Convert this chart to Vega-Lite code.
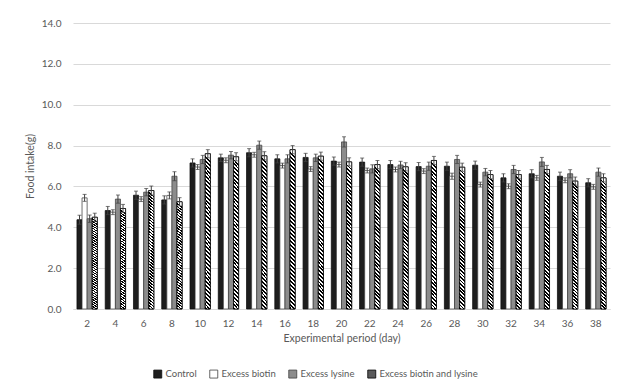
{
  "$schema": "https://vega.github.io/schema/vega-lite/v6.json",
  "width": 537,
  "height": 286,
  "autosize": "none",
  "padding": {"left": 73, "top": 23, "right": 11, "bottom": 79},
  "background": "white",
  "config": {
    "font": "Lato",
    "view": {"stroke": null},
    "axis": {"labelColor": "#595959", "titleColor": "#595959", "labelFontSize": 10, "titleFontSize": 10.5, "titleFontWeight": "normal"}
  },
  "data": {"values": [
    {"day":2,"group":"Control","value":4.37,"lo":4.15,"hi":4.59},
    {"day":2,"group":"Excess biotin","value":5.44,"lo":5.27,"hi":5.61},
    {"day":2,"group":"Excess lysine","value":4.42,"lo":4.24,"hi":4.60},
    {"day":2,"group":"Excess biotin and lysine","value":4.49,"lo":4.29,"hi":4.69},
    {"day":4,"group":"Control","value":4.82,"lo":4.62,"hi":5.02},
    {"day":4,"group":"Excess biotin","value":4.74,"lo":4.62,"hi":4.86},
    {"day":4,"group":"Excess lysine","value":5.38,"lo":5.18,"hi":5.58},
    {"day":4,"group":"Excess biotin and lysine","value":4.92,"lo":4.72,"hi":5.12},
    {"day":6,"group":"Control","value":5.57,"lo":5.37,"hi":5.77},
    {"day":6,"group":"Excess biotin","value":5.38,"lo":5.26,"hi":5.50},
    {"day":6,"group":"Excess lysine","value":5.72,"lo":5.54,"hi":5.90},
    {"day":6,"group":"Excess biotin and lysine","value":5.80,"lo":5.58,"hi":6.02},
    {"day":8,"group":"Control","value":5.34,"lo":5.14,"hi":5.54},
    {"day":8,"group":"Excess biotin","value":5.56,"lo":5.39,"hi":5.73},
    {"day":8,"group":"Excess lysine","value":6.50,"lo":6.28,"hi":6.72},
    {"day":8,"group":"Excess biotin and lysine","value":5.25,"lo":5.05,"hi":5.45},
    {"day":10,"group":"Control","value":7.15,"lo":6.95,"hi":7.35},
    {"day":10,"group":"Excess biotin","value":6.95,"lo":6.83,"hi":7.07},
    {"day":10,"group":"Excess lysine","value":7.32,"lo":7.12,"hi":7.52},
    {"day":10,"group":"Excess biotin and lysine","value":7.60,"lo":7.40,"hi":7.80},
    {"day":12,"group":"Control","value":7.40,"lo":7.22,"hi":7.58},
    {"day":12,"group":"Excess biotin","value":7.28,"lo":7.16,"hi":7.40},
    {"day":12,"group":"Excess lysine","value":7.53,"lo":7.35,"hi":7.71},
    {"day":12,"group":"Excess biotin and lysine","value":7.45,"lo":7.25,"hi":7.65},
    {"day":14,"group":"Control","value":7.65,"lo":7.45,"hi":7.85},
    {"day":14,"group":"Excess biotin","value":7.55,"lo":7.43,"hi":7.67},
    {"day":14,"group":"Excess lysine","value":8.02,"lo":7.82,"hi":8.22},
    {"day":14,"group":"Excess biotin and lysine","value":7.50,"lo":7.30,"hi":7.70},
    {"day":16,"group":"Control","value":7.35,"lo":7.15,"hi":7.55},
    {"day":16,"group":"Excess biotin","value":7.02,"lo":6.90,"hi":7.14},
    {"day":16,"group":"Excess lysine","value":7.35,"lo":7.15,"hi":7.55},
    {"day":16,"group":"Excess biotin and lysine","value":7.80,"lo":7.60,"hi":8.00},
    {"day":18,"group":"Control","value":7.42,"lo":7.22,"hi":7.62},
    {"day":18,"group":"Excess biotin","value":6.85,"lo":6.73,"hi":6.97},
    {"day":18,"group":"Excess lysine","value":7.40,"lo":7.22,"hi":7.58},
    {"day":18,"group":"Excess biotin and lysine","value":7.48,"lo":7.28,"hi":7.68},
    {"day":20,"group":"Control","value":7.24,"lo":7.04,"hi":7.44},
    {"day":20,"group":"Excess biotin","value":7.07,"lo":6.95,"hi":7.19},
    {"day":20,"group":"Excess lysine","value":8.18,"lo":7.93,"hi":8.43},
    {"day":20,"group":"Excess biotin and lysine","value":7.20,"lo":7.00,"hi":7.40},
    {"day":22,"group":"Control","value":7.19,"lo":6.99,"hi":7.39},
    {"day":22,"group":"Excess biotin","value":6.78,"lo":6.66,"hi":6.90},
    {"day":22,"group":"Excess lysine","value":6.86,"lo":6.66,"hi":7.06},
    {"day":22,"group":"Excess biotin and lysine","value":7.07,"lo":6.87,"hi":7.27},
    {"day":24,"group":"Control","value":7.07,"lo":6.87,"hi":7.27},
    {"day":24,"group":"Excess biotin","value":6.83,"lo":6.71,"hi":6.95},
    {"day":24,"group":"Excess lysine","value":7.05,"lo":6.87,"hi":7.23},
    {"day":24,"group":"Excess biotin and lysine","value":6.96,"lo":6.76,"hi":7.16},
    {"day":26,"group":"Control","value":6.97,"lo":6.77,"hi":7.17},
    {"day":26,"group":"Excess biotin","value":6.75,"lo":6.63,"hi":6.87},
    {"day":26,"group":"Excess lysine","value":6.99,"lo":6.79,"hi":7.19},
    {"day":26,"group":"Excess biotin and lysine","value":7.27,"lo":7.07,"hi":7.47},
    {"day":28,"group":"Control","value":6.99,"lo":6.79,"hi":7.19},
    {"day":28,"group":"Excess biotin","value":6.50,"lo":6.35,"hi":6.65},
    {"day":28,"group":"Excess lysine","value":7.32,"lo":7.12,"hi":7.52},
    {"day":28,"group":"Excess biotin and lysine","value":6.94,"lo":6.74,"hi":7.14},
    {"day":30,"group":"Control","value":7.04,"lo":6.84,"hi":7.24},
    {"day":30,"group":"Excess biotin","value":6.09,"lo":5.97,"hi":6.21},
    {"day":30,"group":"Excess lysine","value":6.70,"lo":6.52,"hi":6.88},
    {"day":30,"group":"Excess biotin and lysine","value":6.58,"lo":6.38,"hi":6.78},
    {"day":32,"group":"Control","value":6.42,"lo":6.22,"hi":6.62},
    {"day":32,"group":"Excess biotin","value":6.01,"lo":5.89,"hi":6.13},
    {"day":32,"group":"Excess lysine","value":6.83,"lo":6.63,"hi":7.03},
    {"day":32,"group":"Excess biotin and lysine","value":6.58,"lo":6.38,"hi":6.78},
    {"day":34,"group":"Control","value":6.62,"lo":6.42,"hi":6.82},
    {"day":34,"group":"Excess biotin","value":6.42,"lo":6.30,"hi":6.54},
    {"day":34,"group":"Excess lysine","value":7.20,"lo":6.98,"hi":7.42},
    {"day":34,"group":"Excess biotin and lysine","value":6.83,"lo":6.63,"hi":7.03},
    {"day":36,"group":"Control","value":6.50,"lo":6.30,"hi":6.70},
    {"day":36,"group":"Excess biotin","value":6.30,"lo":6.18,"hi":6.42},
    {"day":36,"group":"Excess lysine","value":6.62,"lo":6.42,"hi":6.82},
    {"day":36,"group":"Excess biotin and lysine","value":6.26,"lo":6.06,"hi":6.46},
    {"day":38,"group":"Control","value":6.18,"lo":5.98,"hi":6.38},
    {"day":38,"group":"Excess biotin","value":5.98,"lo":5.86,"hi":6.10},
    {"day":38,"group":"Excess lysine","value":6.70,"lo":6.50,"hi":6.90},
    {"day":38,"group":"Excess biotin and lysine","value":6.42,"lo":6.22,"hi":6.62}
  ]},
  "encoding": {
    "x": {
      "field": "day", "type": "ordinal",
      "scale": {"paddingInner": 0.28, "paddingOuter": 0.14},
      "axis": {"title": "Experimental period (day)", "labelAngle": 0, "ticks": false, "tickSize": 0, "domainColor": "#d9d9d9", "labelPadding": 9, "titlePadding": 5, "grid": false}
    },
    "xOffset": {
      "field": "group", "type": "nominal",
      "scale": {"domain": ["Control", "Excess biotin", "Excess lysine", "Excess biotin and lysine"], "paddingInner": 0, "paddingOuter": 0}
    }
  },
  "layer": [
    {
      "mark": {"type": "bar", "strokeWidth": 0.75},
      "encoding": {
        "y": {
          "field": "value", "type": "quantitative",
          "scale": {"domain": [0, 14], "nice": false},
          "axis": {"title": "Food intake(g)", "values": [0, 2, 4, 6, 8, 10, 12, 14], "format": ".1f", "domain": false, "ticks": false, "tickSize": 0, "labelPadding": 12, "titlePadding": 6, "grid": true, "gridColor": "#d9d9d9"}
        },
        "fill": {
          "field": "group", "type": "nominal",
          "scale": {
            "domain": ["Control", "Excess biotin", "Excess lysine", "Excess biotin and lysine"],
            "range": ["#1e1e1e", "#ffffff", "#8c8c8c", "#5a5a5a"]
          },
          "legend": {"orient": "none", "legendX": 80, "legendY": 346, "direction": "horizontal", "title": null, "symbolType": "square", "symbolSize": 64, "symbolStrokeWidth": 0.8, "labelFontSize": 9.5, "labelColor": "#595959", "columnPadding": 11, "labelOffset": 3}
        },
        "stroke": {
          "field": "group", "type": "nominal",
          "scale": {"domain": ["Control", "Excess biotin", "Excess lysine", "Excess biotin and lysine"], "range": ["#0d0d0d", "#404040", "#404040", "#000000"]},
          "legend": {"orient": "none", "legendX": 80, "legendY": 346, "direction": "horizontal", "title": null, "symbolType": "square", "symbolSize": 64, "symbolStrokeWidth": 0.8, "labelFontSize": 9.5, "labelColor": "#595959", "columnPadding": 11, "labelOffset": 3}
        }
      }
    },
    {
      "transform": [{"filter": "datum.group === 'Excess biotin and lysine'"}],
      "mark": {"type": "bar", "strokeWidth": 0.75, "stroke": "#000000", "fill": {"gradient": "linear", "x1": 0, "y1": 1, "x2": 0.0357, "y2": 0, "stops": [
              {"offset":0,"color":"#000"},{"offset":0.0125,"color":"#000"},{"offset":0.0125,"color":"#fff"},{"offset":0.025,"color":"#fff"},
              {"offset":0.025,"color":"#000"},{"offset":0.0375,"color":"#000"},{"offset":0.0375,"color":"#fff"},{"offset":0.05,"color":"#fff"},
              {"offset":0.05,"color":"#000"},{"offset":0.0625,"color":"#000"},{"offset":0.0625,"color":"#fff"},{"offset":0.075,"color":"#fff"},
              {"offset":0.075,"color":"#000"},{"offset":0.0875,"color":"#000"},{"offset":0.0875,"color":"#fff"},{"offset":0.1,"color":"#fff"},
              {"offset":0.1,"color":"#000"},{"offset":0.1125,"color":"#000"},{"offset":0.1125,"color":"#fff"},{"offset":0.125,"color":"#fff"},
              {"offset":0.125,"color":"#000"},{"offset":0.1375,"color":"#000"},{"offset":0.1375,"color":"#fff"},{"offset":0.15,"color":"#fff"},
              {"offset":0.15,"color":"#000"},{"offset":0.1625,"color":"#000"},{"offset":0.1625,"color":"#fff"},{"offset":0.175,"color":"#fff"},
              {"offset":0.175,"color":"#000"},{"offset":0.1875,"color":"#000"},{"offset":0.1875,"color":"#fff"},{"offset":0.2,"color":"#fff"},
              {"offset":0.2,"color":"#000"},{"offset":0.2125,"color":"#000"},{"offset":0.2125,"color":"#fff"},{"offset":0.225,"color":"#fff"},
              {"offset":0.225,"color":"#000"},{"offset":0.2375,"color":"#000"},{"offset":0.2375,"color":"#fff"},{"offset":0.25,"color":"#fff"},
              {"offset":0.25,"color":"#000"},{"offset":0.2625,"color":"#000"},{"offset":0.2625,"color":"#fff"},{"offset":0.275,"color":"#fff"},
              {"offset":0.275,"color":"#000"},{"offset":0.2875,"color":"#000"},{"offset":0.2875,"color":"#fff"},{"offset":0.3,"color":"#fff"},
              {"offset":0.3,"color":"#000"},{"offset":0.3125,"color":"#000"},{"offset":0.3125,"color":"#fff"},{"offset":0.325,"color":"#fff"},
              {"offset":0.325,"color":"#000"},{"offset":0.3375,"color":"#000"},{"offset":0.3375,"color":"#fff"},{"offset":0.35,"color":"#fff"},
              {"offset":0.35,"color":"#000"},{"offset":0.3625,"color":"#000"},{"offset":0.3625,"color":"#fff"},{"offset":0.375,"color":"#fff"},
              {"offset":0.375,"color":"#000"},{"offset":0.3875,"color":"#000"},{"offset":0.3875,"color":"#fff"},{"offset":0.4,"color":"#fff"},
              {"offset":0.4,"color":"#000"},{"offset":0.4125,"color":"#000"},{"offset":0.4125,"color":"#fff"},{"offset":0.425,"color":"#fff"},
              {"offset":0.425,"color":"#000"},{"offset":0.4375,"color":"#000"},{"offset":0.4375,"color":"#fff"},{"offset":0.45,"color":"#fff"},
              {"offset":0.45,"color":"#000"},{"offset":0.4625,"color":"#000"},{"offset":0.4625,"color":"#fff"},{"offset":0.475,"color":"#fff"},
              {"offset":0.475,"color":"#000"},{"offset":0.4875,"color":"#000"},{"offset":0.4875,"color":"#fff"},{"offset":0.5,"color":"#fff"},
              {"offset":0.5,"color":"#000"},{"offset":0.5125,"color":"#000"},{"offset":0.5125,"color":"#fff"},{"offset":0.525,"color":"#fff"},
              {"offset":0.525,"color":"#000"},{"offset":0.5375,"color":"#000"},{"offset":0.5375,"color":"#fff"},{"offset":0.55,"color":"#fff"},
              {"offset":0.55,"color":"#000"},{"offset":0.5625,"color":"#000"},{"offset":0.5625,"color":"#fff"},{"offset":0.575,"color":"#fff"},
              {"offset":0.575,"color":"#000"},{"offset":0.5875,"color":"#000"},{"offset":0.5875,"color":"#fff"},{"offset":0.6,"color":"#fff"},
              {"offset":0.6,"color":"#000"},{"offset":0.6125,"color":"#000"},{"offset":0.6125,"color":"#fff"},{"offset":0.625,"color":"#fff"},
              {"offset":0.625,"color":"#000"},{"offset":0.6375,"color":"#000"},{"offset":0.6375,"color":"#fff"},{"offset":0.65,"color":"#fff"},
              {"offset":0.65,"color":"#000"},{"offset":0.6625,"color":"#000"},{"offset":0.6625,"color":"#fff"},{"offset":0.675,"color":"#fff"},
              {"offset":0.675,"color":"#000"},{"offset":0.6875,"color":"#000"},{"offset":0.6875,"color":"#fff"},{"offset":0.7,"color":"#fff"},
              {"offset":0.7,"color":"#000"},{"offset":0.7125,"color":"#000"},{"offset":0.7125,"color":"#fff"},{"offset":0.725,"color":"#fff"},
              {"offset":0.725,"color":"#000"},{"offset":0.7375,"color":"#000"},{"offset":0.7375,"color":"#fff"},{"offset":0.75,"color":"#fff"},
              {"offset":0.75,"color":"#000"},{"offset":0.7625,"color":"#000"},{"offset":0.7625,"color":"#fff"},{"offset":0.775,"color":"#fff"},
              {"offset":0.775,"color":"#000"},{"offset":0.7875,"color":"#000"},{"offset":0.7875,"color":"#fff"},{"offset":0.8,"color":"#fff"},
              {"offset":0.8,"color":"#000"},{"offset":0.8125,"color":"#000"},{"offset":0.8125,"color":"#fff"},{"offset":0.825,"color":"#fff"},
              {"offset":0.825,"color":"#000"},{"offset":0.8375,"color":"#000"},{"offset":0.8375,"color":"#fff"},{"offset":0.85,"color":"#fff"},
              {"offset":0.85,"color":"#000"},{"offset":0.8625,"color":"#000"},{"offset":0.8625,"color":"#fff"},{"offset":0.875,"color":"#fff"},
              {"offset":0.875,"color":"#000"},{"offset":0.8875,"color":"#000"},{"offset":0.8875,"color":"#fff"},{"offset":0.9,"color":"#fff"},
              {"offset":0.9,"color":"#000"},{"offset":0.9125,"color":"#000"},{"offset":0.9125,"color":"#fff"},{"offset":0.925,"color":"#fff"},
              {"offset":0.925,"color":"#000"},{"offset":0.9375,"color":"#000"},{"offset":0.9375,"color":"#fff"},{"offset":0.95,"color":"#fff"},
              {"offset":0.95,"color":"#000"},{"offset":0.9625,"color":"#000"},{"offset":0.9625,"color":"#fff"},{"offset":0.975,"color":"#fff"},
              {"offset":0.975,"color":"#000"},{"offset":0.9875,"color":"#000"},{"offset":0.9875,"color":"#fff"},{"offset":1,"color":"#fff"}
            ]}},
      "encoding": {
        "y": {"field": "value", "type": "quantitative", "title": "Food intake(g)"}
      }
    },
    {
      "mark": {"type": "rule", "color": "#404040", "strokeWidth": 1},
      "encoding": {
        "y": {"field": "lo", "type": "quantitative", "title": "Food intake(g)"},
        "y2": {"field": "hi"}
      }
    },
    {
      "mark": {"type": "tick", "color": "#404040", "size": 4, "thickness": 1},
      "encoding": {"y": {"field": "hi", "type": "quantitative", "title": "Food intake(g)"}}
    },
    {
      "mark": {"type": "tick", "color": "#404040", "size": 4, "thickness": 1},
      "encoding": {"y": {"field": "lo", "type": "quantitative", "title": "Food intake(g)"}}
    }
  ]
}
